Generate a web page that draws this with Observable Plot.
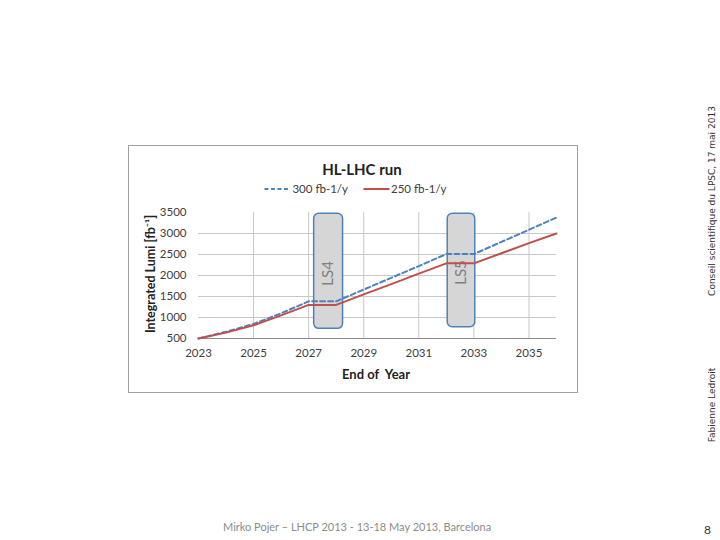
<!DOCTYPE html>
<html>
<head>
<meta charset="utf-8">
<script src="https://cdn.jsdelivr.net/npm/d3@7"></script>
<script src="https://cdn.jsdelivr.net/npm/@observablehq/plot@0.6"></script>
<style>
  html, body { margin: 0; padding: 0; background: #fff; }
  body { width: 720px; height: 540px; position: relative; overflow: hidden; font-family: Lato, "Open Sans", sans-serif; }
  .abs { position: absolute; white-space: nowrap; }
  #frame { position: absolute; left: 128px; top: 145px; width: 448px; height: 246px; border: 1.5px solid #a0a0a0; }
  #title { left: 362px; top: 160px; transform: translateX(-50%); font-weight: bold; font-size: 15px; color: #222; }
  #legend { left: 355px; top: 182px; transform: translateX(-50%); font-size: 11.5px; color: #404040; display: flex; align-items: center; gap: 14px; }
  #legend span.item { display: flex; align-items: center; gap: 1px; }
  #ylab { left: 150px; top: 274px; transform: translate(-50%, -50%) rotate(-90deg); font-weight: bold; font-size: 12.5px; color: #222; }
  #xlab { left: 376px; top: 366px; transform: translateX(-50%); font-weight: bold; font-size: 13px; color: #222; }
  #chart { position: absolute; left: 128px; top: 200px; }
  #footer { left: 223px; top: 520px; font-size: 11px; color: #8c8c8c; }
  #page { left: 704px; top: 522px; font-size: 12px; color: #333; }
  .side { left: 712px; transform: translate(-50%, -50%) rotate(-90deg); font-size: 9px; color: #333; font-family: "DejaVu Sans", sans-serif; }
</style>
</head>
<body>
<div id="frame"></div>
<div class="abs" id="title">HL-LHC run</div>
<div class="abs" id="legend"></div>
<div class="abs" id="ylab">Integrated Lumi [fb⁻¹]</div>
<div id="chart"></div>
<div class="abs" id="xlab">End of&nbsp; Year</div>
<div class="abs" id="footer">Mirko Pojer – LHCP 2013 - 13-18 May 2013, Barcelona</div>
<div class="abs" id="page">8</div>
<div class="abs side" style="top:201px;">Conseil scientifique du LPSC, 17 mai 2013</div>
<div class="abs side" style="top:405px;">Fabienne Ledroit</div>
<script>
// ---- data ----
const years = [2023, 2024, 2025, 2026, 2027, 2028, 2029, 2030, 2031, 2032, 2033, 2034, 2035, 2036];
const lumi300 = [500, 660, 845, 1100, 1385, 1385, 1665, 1945, 2225, 2510, 2510, 2800, 3090, 3380];
const lumi250 = [500, 640, 815, 1050, 1300, 1300, 1550, 1795, 2045, 2290, 2290, 2530, 2770, 3000];
const seriesNames = ["300 fb-1/y", "250 fb-1/y"];
const xTicks = [2023, 2025, 2027, 2029, 2031, 2033, 2035];
const yTicks = [500, 1000, 1500, 2000, 2500, 3000, 3500];
const shutdownLabels = ["LS4", "LS5"];
const shutdownStart = [2027.2, 2032.05];
const shutdownEnd = [2028.25, 2033.05];
const shutdownLow = [730, 770];
const shutdownHigh = [3470, 3470];

const blue = "#4f81bd", red = "#c0504d";

const d300 = years.map((y, i) => ({year: y, lumi: lumi300[i]}));
const d250 = years.map((y, i) => ({year: y, lumi: lumi250[i]}));
const ls = shutdownLabels.map((l, i) => ({label: l, x1: shutdownStart[i], x2: shutdownEnd[i], y1: shutdownLow[i], y2: shutdownHigh[i]}));

// legend
const legend = document.getElementById("legend");
[[seriesNames[0], blue, "4,2.5"], [seriesNames[1], red, null]].forEach(([name, col, dash]) => {
  const s = document.createElement("span");
  s.className = "item";
  s.innerHTML = `<svg width="28" height="8"><line x1="1" y1="4" x2="27" y2="4" stroke="${col}" stroke-width="2" ${dash ? `stroke-dasharray="${dash}"` : ""}/></svg><span>${name}</span>`;
  legend.appendChild(s);
});

const chart = Plot.plot({
  width: 450,
  height: 165,
  marginLeft: 70,
  marginRight: 22,
  marginTop: 12,
  marginBottom: 27,
  style: {fontFamily: "Lato, 'Open Sans', sans-serif", fontSize: "11.5px", color: "#404040", background: "transparent"},
  x: {domain: [2023, 2036], label: null},
  y: {domain: [500, 3500], label: null},
  marks: [
    Plot.gridY(yTicks.filter(v => v > 500 && v < 3500), {stroke: "#c8c8c8", strokeOpacity: 1}),
    Plot.gridX(xTicks.filter(v => v > 2023), {stroke: "#c8c8c8", strokeOpacity: 1}),
    Plot.ruleY([500], {stroke: "#8c8c8c"}),
    Plot.rect(ls, {x1: "x1", x2: "x2", y1: "y1", y2: "y2", fill: "#d6d6d6", stroke: blue, strokeWidth: 1.5, rx: 5}),
    Plot.text(ls, {x: d => (d.x1 + d.x2) / 2, y: d => (d.y1 + d.y2) / 2 - 50, text: "label", rotate: -90, fontSize: 15, fill: "#808080"}),
    Plot.line(d300, {x: "year", y: "lumi", stroke: blue, strokeWidth: 2, strokeDasharray: "5,3"}),
    Plot.line(d250, {x: "year", y: "lumi", stroke: red, strokeWidth: 2}),
    Plot.axisX({ticks: xTicks, tickFormat: d => String(d), tickSize: 0, tickPadding: 10}),
    Plot.axisY({ticks: yTicks, tickFormat: d => String(d), tickSize: 0, tickPadding: 12})
  ]
});
document.getElementById("chart").appendChild(chart);
</script>
</body>
</html>
